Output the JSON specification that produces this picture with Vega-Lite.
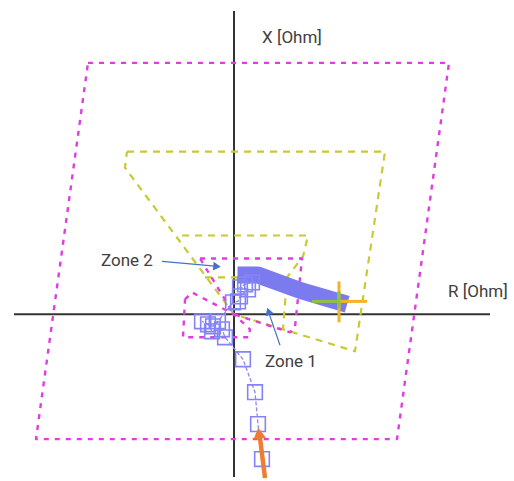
{
  "$schema": "https://vega.github.io/schema/vega-lite/v6.json",
  "width": 514,
  "height": 481,
  "padding": 0,
  "autosize": {"type": "fit", "contains": "padding"},
  "background": "white",
  "config": {"view": {"stroke": null}},
  "datasets": {
    "zones": [
      {"g": "outer", "c": "m", "i": 0, "r": -14.6, "x": 25.2},
      {"g": "outer", "c": "m", "i": 1, "r": 21.5, "x": 25.2},
      {"g": "outer", "c": "m", "i": 2, "r": 16.3, "x": -12.5},
      {"g": "outer", "c": "m", "i": 3, "r": -19.8, "x": -12.5},
      {"g": "outer", "c": "m", "i": 4, "r": -14.6, "x": 25.2},
      {"g": "z2", "c": "m", "i": 0, "r": -3.4, "x": 5.6},
      {"g": "z2", "c": "m", "i": 1, "r": 6.8, "x": 5.6},
      {"g": "z2", "c": "m", "i": 2, "r": 6.1, "x": -1.3},
      {"g": "z2", "c": "m", "i": 3, "r": 5.6, "x": -1.8},
      {"g": "z2", "c": "m", "i": 4, "r": 0, "x": 0},
      {"g": "z2", "c": "m", "i": 5, "r": -3.4, "x": 5.6},
      {"g": "z1", "c": "m", "i": 0, "r": -4.9, "x": 1.5},
      {"g": "z1", "c": "m", "i": 1, "r": -4.2, "x": 2.2},
      {"g": "z1", "c": "m", "i": 2, "r": 0, "x": 0},
      {"g": "z1", "c": "m", "i": 3, "r": 1.6, "x": -1.5},
      {"g": "z1", "c": "m", "i": 4, "r": 1.5, "x": -2.3},
      {"g": "z1", "c": "m", "i": 5, "r": -5.1, "x": -2.3},
      {"g": "z1", "c": "m", "i": 6, "r": -4.9, "x": 1.5},
      {"g": "ya", "c": "y", "i": 0, "r": -10.7, "x": 16.3},
      {"g": "ya", "c": "y", "i": 1, "r": 15.1, "x": 16.3},
      {"g": "ya", "c": "y", "i": 2, "r": 12.1, "x": -3.7},
      {"g": "ya", "c": "y", "i": 3, "r": 0, "x": 0},
      {"g": "ya", "c": "y", "i": 4, "r": -10.9, "x": 14.7},
      {"g": "ya", "c": "y", "i": 5, "r": -10.7, "x": 16.3},
      {"g": "yb", "c": "y", "i": 0, "r": -5.2, "x": 7.9},
      {"g": "yb", "c": "y", "i": 1, "r": 7.4, "x": 7.9},
      {"g": "yb", "c": "y", "i": 2, "r": 6.9, "x": 5.8},
      {"g": "yb", "c": "y", "i": 3, "r": 5.3, "x": 3.7},
      {"g": "yb", "c": "y", "i": 4, "r": 4.9, "x": -1.5},
      {"g": "yc", "c": "y", "i": 0, "r": -2.9, "x": 3.7},
      {"g": "yc", "c": "y", "i": 1, "r": 5.1, "x": 3.7}
    ],
    "traj": [
      {"i": 0, "r": 2.8, "x": -14.5},
      {"i": 1, "r": 2.4, "x": -11.0},
      {"i": 2, "r": 2.1, "x": -7.8},
      {"i": 3, "r": 0.9, "x": -4.5},
      {"i": 4, "r": -0.9, "x": -2.3},
      {"i": 5, "r": -1.2, "x": -1.5},
      {"i": 6, "r": -2.2, "x": -1.7},
      {"i": 7, "r": -2.6, "x": -1.0},
      {"i": 8, "r": -3.2, "x": -0.7},
      {"i": 9, "r": -2.1, "x": -1.2},
      {"i": 10, "r": -1.6, "x": -0.7},
      {"i": 11, "r": -0.1, "x": 1.2},
      {"i": 12, "r": 0.4, "x": 1.3},
      {"i": 13, "r": 0.6, "x": 1.8},
      {"i": 14, "r": 1.4, "x": 2.5},
      {"i": 15, "r": 0.6, "x": 2.7},
      {"i": 16, "r": 1.1, "x": 3.0},
      {"i": 17, "r": 1.8, "x": 3.2}
    ],
    "band": [
      {"i": 0, "r": 1.2, "x": 3.95},
      {"i": 1, "r": 2.4, "x": 3.95},
      {"i": 2, "r": 6.6, "x": 2.4},
      {"i": 3, "r": 10.5, "x": 1.25}
    ],
    "segs": [
      {"s": "axis", "c": "#333333", "w": 2, "r": -22, "x": 0, "r2": 25.6, "x2": 0},
      {"s": "axis", "c": "#333333", "w": 2, "r": 0, "x": 30.4, "r2": 0, "x2": -16.3},
      {"s": "cross", "c": "#f5b324", "w": 3, "r": 10.5, "x": 3.3, "r2": 10.5, "x2": -0.8},
      {"s": "cross", "c": "#f5b324", "w": 3, "r": 10.5, "x": 1.3, "r2": 13.3, "x2": 1.3},
      {"s": "cross", "c": "#8cc43c", "w": 3, "r": 7.8, "x": 1.3, "r2": 10.5, "x2": 1.3},
      {"s": "cross", "c": "#8cc43c", "w": 3, "r": 10.5, "x": 2.3, "r2": 10.5, "x2": 0.6},
      {"s": "arrow", "c": "#ed7d31", "w": 4.5, "r": 3.1, "x": -16.4, "r2": 2.6, "x2": -12.4},
      {"s": "arrow", "c": "#4472c4", "w": 1.2, "r": -7.2, "x": 5.3, "r2": -1.6, "x2": 4.8},
      {"s": "arrow", "c": "#4472c4", "w": 1.2, "r": 4.6, "x": -3.1, "r2": 3.5, "x2": 0.1}
    ],
    "heads": [
      {"c": "#ed7d31", "a": -8, "z": 160, "r": 2.5, "x": -11.9},
      {"c": "#4472c4", "a": 95, "z": 75, "r": -1.7, "x": 4.8},
      {"c": "#4472c4", "a": -19, "z": 75, "r": 3.45, "x": 0.3}
    ],
    "labels": [
      {"t": "X [Ohm]", "r": 2.8, "x": 27.2},
      {"t": "R [Ohm]", "r": 21.4, "x": 1.7},
      {"t": "Zone 2", "r": -13.3, "x": 4.8},
      {"t": "Zone 1", "r": 3.1, "x": -5.3}
    ]
  },
  "encoding": {
    "x": {"field": "r", "type": "quantitative", "axis": null,
          "scale": {"domain": [-23.4, 28], "nice": false, "zero": false}},
    "y": {"field": "x", "type": "quantitative", "axis": null,
          "scale": {"domain": [-16.6, 31.5], "nice": false, "zero": false}}
  },
  "layer": [
    {
      "data": {"name": "segs"},
      "transform": [{"filter": "datum.s === 'axis'"}],
      "mark": {"type": "rule"},
      "encoding": {
        "x2": {"field": "r2"}, "y2": {"field": "x2"},
        "color": {"field": "c", "type": "nominal", "scale": null},
        "strokeWidth": {"field": "w", "type": "quantitative", "scale": null}
      }
    },
    {
      "data": {"name": "zones"},
      "transform": [{"filter": "datum.c === 'y'"}],
      "mark": {"type": "line", "color": "#c9c935", "strokeWidth": 2.2, "strokeDash": [7, 6], "strokeJoin": "round"},
      "encoding": {"detail": {"field": "g"}, "order": {"field": "i", "type": "quantitative"}}
    },
    {
      "data": {"name": "zones"},
      "transform": [{"filter": "datum.c === 'm'"}],
      "mark": {"type": "line", "color": "#df3ddf", "strokeWidth": 2.4, "strokeDash": [5, 6], "strokeJoin": "round"},
      "encoding": {"detail": {"field": "g"}, "order": {"field": "i", "type": "quantitative"}}
    },
    {
      "data": {"name": "band"},
      "mark": {"type": "line", "color": "#7b7bef", "strokeWidth": 17, "strokeCap": "square", "strokeJoin": "round"},
      "encoding": {"order": {"field": "i", "type": "quantitative"}}
    },
    {
      "data": {"name": "traj"},
      "mark": {"type": "line", "color": "#8a8af5", "strokeWidth": 1.3, "strokeDash": [4, 2]},
      "encoding": {"order": {"field": "i", "type": "quantitative"}}
    },
    {
      "data": {"name": "traj"},
      "mark": {"type": "point", "shape": "square", "size": 215, "filled": false, "color": "#8484f8", "strokeWidth": 1.6, "opacity": 1}
    },
    {
      "data": {"name": "segs"},
      "transform": [{"filter": "datum.s !== 'axis'"}],
      "mark": {"type": "rule"},
      "encoding": {
        "x2": {"field": "r2"}, "y2": {"field": "x2"},
        "color": {"field": "c", "type": "nominal", "scale": null},
        "strokeWidth": {"field": "w", "type": "quantitative", "scale": null}
      }
    },
    {
      "data": {"name": "heads"},
      "mark": {"type": "point", "shape": "triangle-up", "filled": true, "opacity": 1},
      "encoding": {
        "color": {"field": "c", "type": "nominal", "scale": null},
        "angle": {"field": "a", "type": "quantitative", "scale": null},
        "size": {"field": "z", "type": "quantitative", "scale": null}
      }
    },
    {
      "data": {"name": "labels"},
      "mark": {"type": "text", "align": "left", "baseline": "alphabetic", "fontSize": 17,
               "font": "Roboto, sans-serif", "color": "#404040"},
      "encoding": {"text": {"field": "t"}}
    }
  ]
}
